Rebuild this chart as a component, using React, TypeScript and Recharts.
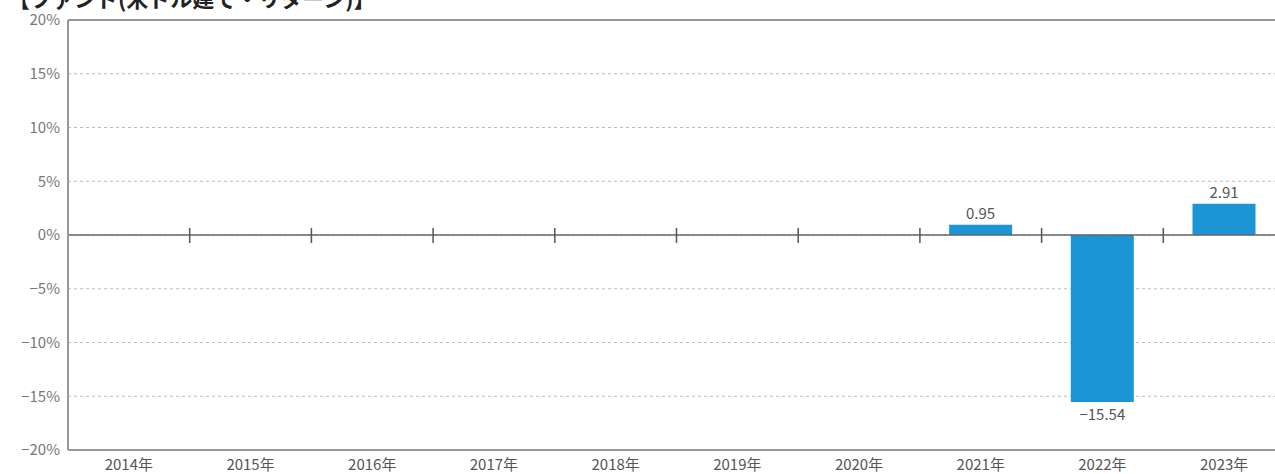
import {
  BarChart,
  Bar,
  XAxis,
  YAxis,
  CartesianGrid,
  ReferenceLine,
  LabelList,
} from "recharts";

const years = [
  "2014年",
  "2015年",
  "2016年",
  "2017年",
  "2018年",
  "2019年",
  "2020年",
  "2021年",
  "2022年",
  "2023年",
];
const returns: (number | null)[] = [null, null, null, null, null, null, null, 0.95, -15.54, 2.91];
const yTicks = [-20, -15, -10, -5, 0, 5, 10, 15, 20];
const title = "【ファンド(米ドル建て・リターン)】";

const data = years.map((year, i) => ({ year, value: returns[i] }));

const FONT = "'Noto Sans CJK JP', 'Noto Sans', sans-serif";

const minus = (v: number) => (v < 0 ? "\u2212" + Math.abs(v) : String(v));

// zero line with small ticks at every category boundary
function ZeroLine(props: any) {
  const { x1, x2, y1 } = props;
  if (x1 == null) return null;
  const step = (x2 - x1) / years.length;
  return (
    <g>
      <line x1={x1} x2={x2} y1={y1} y2={y1} stroke="#666" strokeWidth={1.5} />
      {years.slice(1).map((_, i) => (
        <line
          key={i}
          x1={x1 + step * (i + 1)}
          x2={x1 + step * (i + 1)}
          y1={y1 - 7}
          y2={y1 + 8}
          stroke="#555"
          strokeWidth={1.5}
        />
      ))}
    </g>
  );
}

function LabelText(props: any) {
  const { x, y, width, height, value } = props;
  if (value == null) return null;
  const neg = value < 0;
  const text = (neg ? "\u2212" : "") + Math.abs(value).toFixed(2);
  return (
    <text
      x={x + width / 2}
      y={neg ? Math.max(y, y + height) + 18 : Math.min(y, y + height) - 6}
      textAnchor="middle"
      fill="#555"
      fontSize={15}
      fontFamily={FONT}
    >
      {text}
    </text>
  );
}

export default function App() {
  return (
    <div
      style={{
        position: "relative",
        width: 1275,
        height: 474,
        overflow: "hidden",
        background: "#fff",
        fontFamily: FONT,
      }}
    >
      <style>{"html,body{margin:0;padding:0;overflow:hidden}"}</style>
      <div
        style={{
          position: "absolute",
          top: -14,
          left: 8,
          fontSize: 22,
          lineHeight: "22px",
          fontWeight: 700,
          color: "#222",
          whiteSpace: "nowrap",
        }}
      >
        {title}
      </div>
      <BarChart
        width={1275}
        height={474}
        data={data}
        barCategoryGap="24%"
        margin={{ top: 20, right: -10, left: 0, bottom: 0 }}
      >
        <CartesianGrid vertical={false} stroke="#bbb" strokeDasharray="3 3" />
        <XAxis
          dataKey="year"
          stroke="#999"
          strokeWidth={2}
          tickLine={false}
          tickSize={4}
          height={24}
          tick={{ fontSize: 15, fill: "#555", fontFamily: FONT, dy: 3 }}
        />
        <YAxis
          domain={[-20, 20]}
          ticks={yTicks}
          interval={0}
          width={68}
          stroke="#999"
          strokeWidth={2}
          tickLine={false}
          tickFormatter={(v: number) => minus(v) + "%"}
          tick={{ fontSize: 15, fill: "#777", fontFamily: FONT }}
        />
        <ReferenceLine y={20} stroke="#999" strokeWidth={2} />
        <ReferenceLine y={0} shape={ZeroLine} />
        <Bar dataKey="value" fill="#1c95d6" isAnimationActive={false}>
          <LabelList dataKey="value" content={LabelText} />
        </Bar>
      </BarChart>
    </div>
  );
}
